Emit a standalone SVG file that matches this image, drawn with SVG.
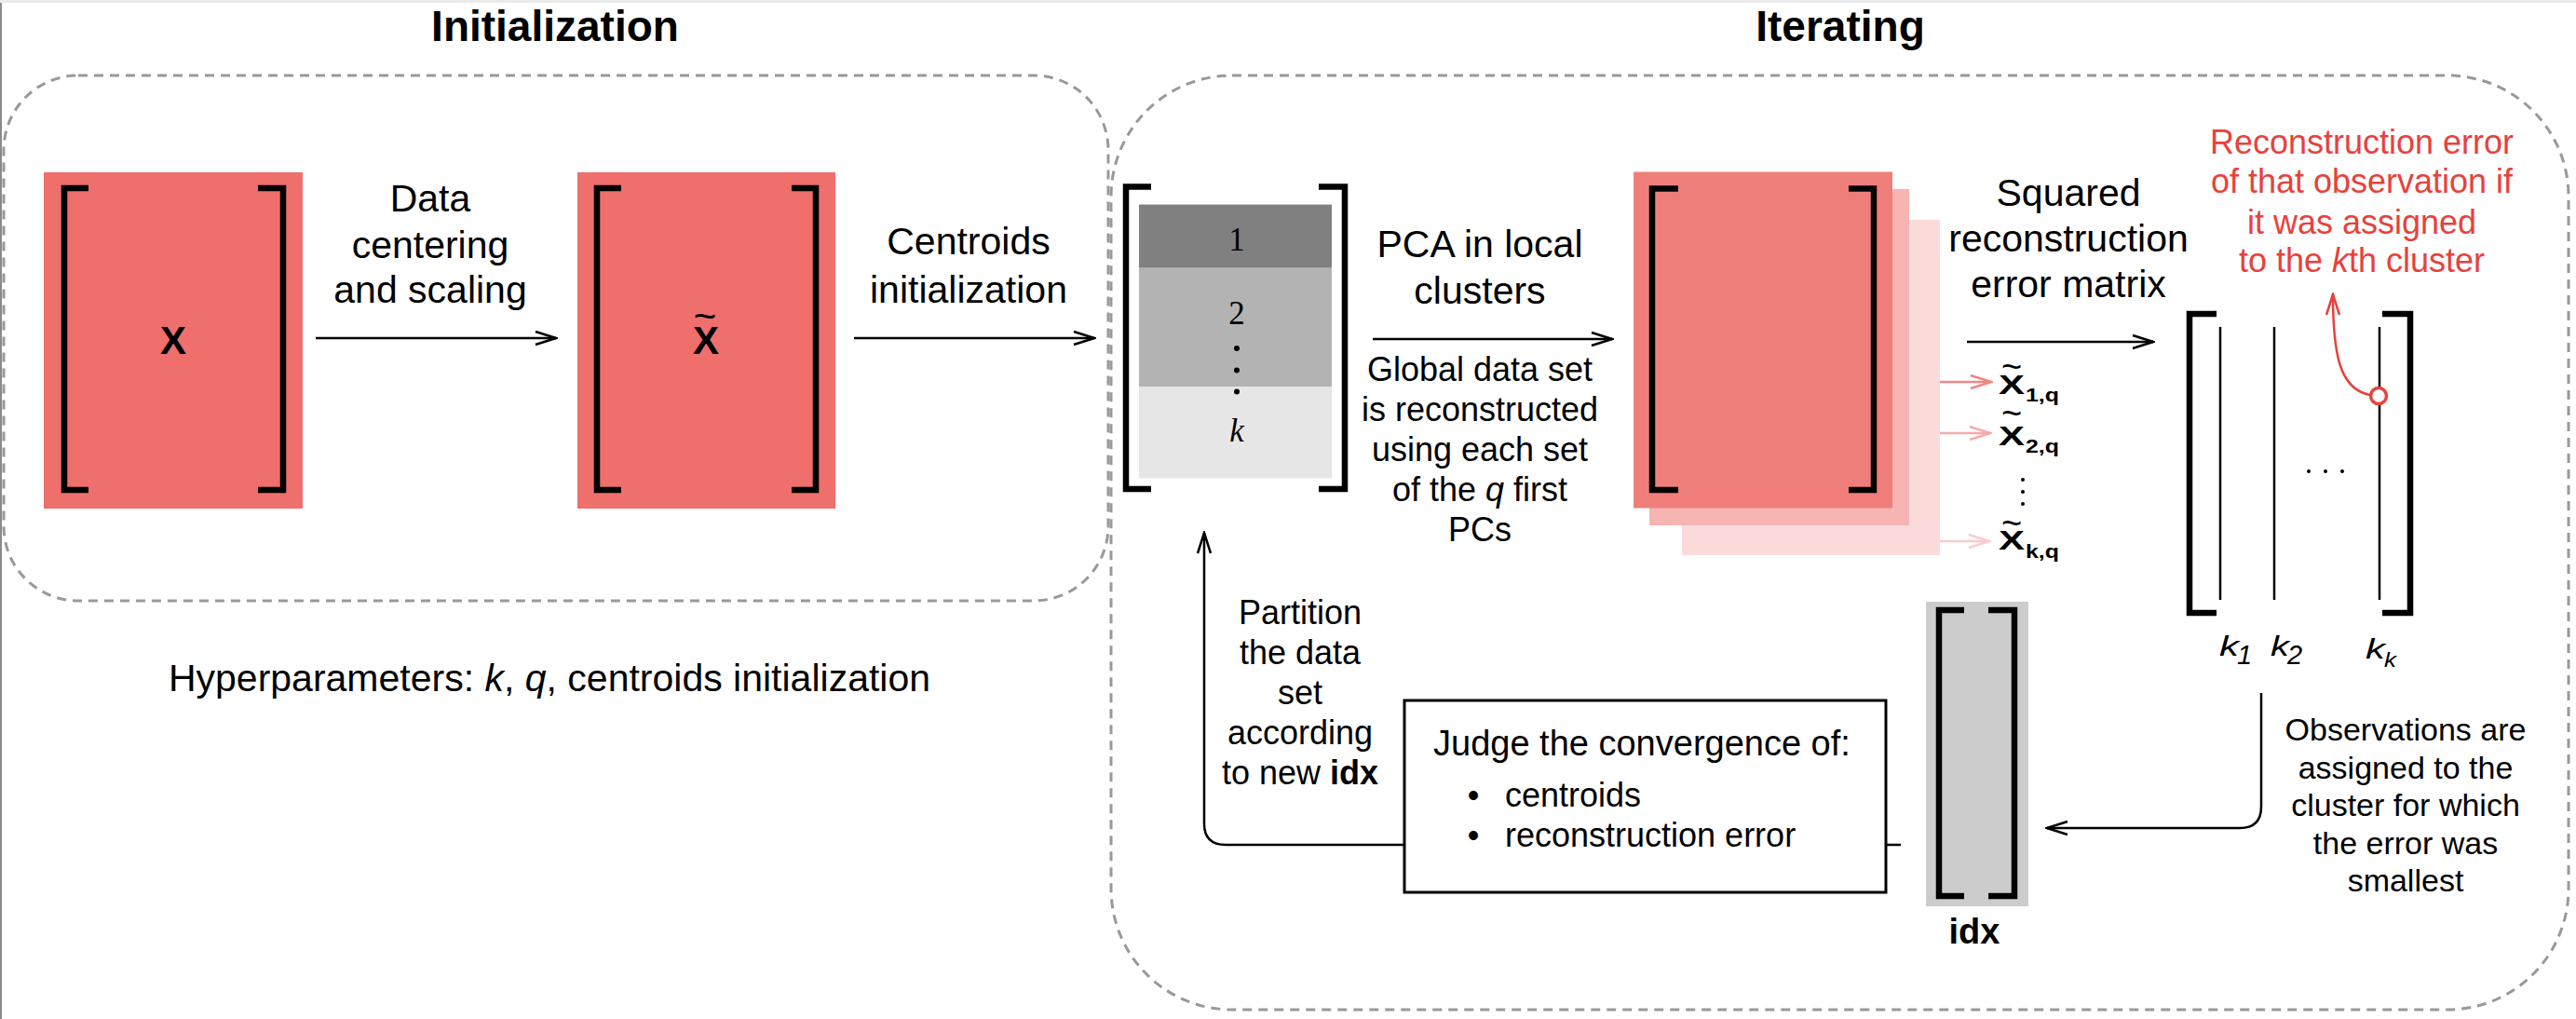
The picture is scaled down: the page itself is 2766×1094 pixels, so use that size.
<svg xmlns="http://www.w3.org/2000/svg" width="2766" height="1094" viewBox="0 0 2766 1094">
<style>
  text { font-family: "Liberation Sans", Arial, Helvetica, sans-serif; fill: #000; }
  .title { font-size: 46px; font-weight: bold; text-anchor: middle; }
  .lbl { font-size: 41px; text-anchor: middle; }
  .sm { font-size: 36px; text-anchor: middle; }
  .obs { font-size: 34px; text-anchor: middle; }
  .red { fill: #e8413c; font-size: 36px; text-anchor: middle; }
  .serif { font-family: "Liberation Serif", "Times New Roman", serif; font-size: 35px; text-anchor: middle; }
  .br { fill: none; stroke: #000; stroke-width: 6.5; stroke-linejoin: miter; }
  .col { fill: none; stroke: #000; stroke-width: 2.5; }
  .dash { fill: none; stroke: #999; stroke-width: 3; stroke-dasharray: 10 7; }
  .conn { fill: none; stroke: #000; stroke-width: 2.5; }
  .mx { font-weight: bold; }
</style>
<defs>
  <marker id="ah" viewBox="0 0 26 18" refX="24" refY="9" markerWidth="26" markerHeight="18" markerUnits="userSpaceOnUse" orient="auto">
    <path d="M2 2 L24 9 L2 16" fill="none" stroke="#000" stroke-width="2.5"/>
  </marker>
  <marker id="ahp1" viewBox="0 0 26 18" refX="24" refY="9" markerWidth="26" markerHeight="18" markerUnits="userSpaceOnUse" orient="auto">
    <path d="M2 2 L24 9 L2 16" fill="none" stroke="#f08585" stroke-width="2.5"/>
  </marker>
  <marker id="ahp2" viewBox="0 0 26 18" refX="24" refY="9" markerWidth="26" markerHeight="18" markerUnits="userSpaceOnUse" orient="auto">
    <path d="M2 2 L24 9 L2 16" fill="none" stroke="#f5abab" stroke-width="2.5"/>
  </marker>
  <marker id="ahp3" viewBox="0 0 26 18" refX="24" refY="9" markerWidth="26" markerHeight="18" markerUnits="userSpaceOnUse" orient="auto">
    <path d="M2 2 L24 9 L2 16" fill="none" stroke="#f9cccc" stroke-width="2.5"/>
  </marker>
  <marker id="ahr" viewBox="0 0 26 18" refX="24" refY="9" markerWidth="26" markerHeight="18" markerUnits="userSpaceOnUse" orient="auto">
    <path d="M2 2 L24 9 L2 16" fill="none" stroke="#e8413c" stroke-width="2.5"/>
  </marker>
</defs>

<rect x="0" y="0" width="2766" height="1094" fill="#fff"/>
<rect x="0" y="0" width="2766" height="3" fill="#ebebeb"/>
<line x1="1" y1="3" x2="1" y2="1094" stroke="#8a8a8a" stroke-width="2"/>

<g id="titles">
  <text class="title" x="596" y="44">Initialization</text>
  <text class="title" x="1976" y="44">Iterating</text>
</g>

<g id="frames">
  <rect class="dash" x="4" y="81" width="1186" height="564" rx="80" ry="80"/>
  <rect class="dash" x="1193" y="81" width="1565" height="1003" rx="130" ry="130"/>
</g>

<g id="connectors">
  <path class="conn" d="M339 363 H597" marker-end="url(#ah)"/>
  <path class="conn" d="M917 363 H1175" marker-end="url(#ah)"/>
  <path class="conn" d="M1474 364 H1731" marker-end="url(#ah)"/>
  <path class="conn" d="M2112 367 H2312" marker-end="url(#ah)"/>
  <path d="M2032 410 H2138" fill="none" stroke="#f08585" stroke-width="2.5" marker-end="url(#ahp1)"/>
  <path d="M2050 465 H2137" fill="none" stroke="#f5abab" stroke-width="2.5" marker-end="url(#ahp2)"/>
  <path d="M2083 581 H2136" fill="none" stroke="#f9cccc" stroke-width="2.5" marker-end="url(#ahp3)"/>
  <path class="conn" d="M2428 744 V866 Q2428 889 2405 889 H2198" marker-end="url(#ah)"/>
  <path class="conn" d="M2041 907 H1316 Q1293 907 1293 884 V572" marker-end="url(#ah)"/>
  <path d="M2545 424 C2512 418 2505 380 2505 316" fill="none" stroke="#e8413c" stroke-width="2.5" marker-end="url(#ahr)"/>
</g>

<g id="label-data-centering">
  <text class="lbl" x="462" y="227">Data</text>
  <text class="lbl" x="462" y="277">centering</text>
  <text class="lbl" x="462" y="325">and scaling</text>
</g>
<g id="label-centroids-init">
  <text class="lbl" x="1040" y="273">Centroids</text>
  <text class="lbl" x="1040" y="325">initialization</text>
</g>
<g id="label-pca">
  <text class="lbl" x="1589" y="276">PCA in local</text>
  <text class="lbl" x="1589" y="326">clusters</text>
  <text class="sm" x="1589" y="409">Global data set</text>
  <text class="sm" x="1589" y="452">is reconstructed</text>
  <text class="sm" x="1589" y="495">using each set</text>
  <text class="sm" x="1589" y="538">of the <tspan font-style="italic">q</tspan> first</text>
  <text class="sm" x="1589" y="581">PCs</text>
</g>
<g id="label-squared">
  <text class="lbl" x="2221" y="221">Squared</text>
  <text class="lbl" x="2221" y="270">reconstruction</text>
  <text class="lbl" x="2221" y="319">error matrix</text>
</g>
<g id="label-partition">
  <text class="sm" x="1396" y="670">Partition</text>
  <text class="sm" x="1396" y="713">the data</text>
  <text class="sm" x="1396" y="756">set</text>
  <text class="sm" x="1396" y="799">according</text>
  <text class="sm" x="1396" y="842">to new <tspan font-weight="bold">idx</tspan></text>
</g>
<g id="label-observations">
  <text class="obs" x="2583" y="795">Observations are</text>
  <text class="obs" x="2583" y="836">assigned to the</text>
  <text class="obs" x="2583" y="876">cluster for which</text>
  <text class="obs" x="2583" y="917">the error was</text>
  <text class="obs" x="2583" y="957">smallest</text>
</g>
<g id="label-red">
  <text class="red" x="2536" y="165">Reconstruction error</text>
  <text class="red" x="2536" y="207">of that observation if</text>
  <text class="red" x="2536" y="251">it was assigned</text>
  <text class="red" x="2536" y="292">to the <tspan font-style="italic">k</tspan>th cluster</text>
</g>
<g id="hyperparameters">
  <text class="lbl" x="590" y="742">Hyperparameters: <tspan font-style="italic">k</tspan>, <tspan font-style="italic">q</tspan>, centroids initialization</text>
</g>

<g id="node-X">
  <rect x="47" y="185" width="278" height="361" fill="#ee6f6b"/>
  <path class="br" d="M95 202 H69 V526 H95"/>
  <path class="br" d="M277 202 H304 V526 H277"/>
  <text class="mx" x="186" y="380" font-size="42" text-anchor="middle">X</text>
</g>

<g id="node-Xtilde">
  <rect x="620" y="185" width="277" height="361" fill="#ee6f6b"/>
  <path class="br" d="M667 202 H641 V526 H667"/>
  <path class="br" d="M850 202 H876 V526 H850"/>
  <text class="mx" font-size="42" text-anchor="middle"><tspan x="758" y="380">X</tspan><tspan x="757" y="354" font-weight="normal">~</tspan></text>
</g>

<g id="node-centroids">
  <rect x="1223" y="219.6" width="207" height="68.1" fill="#808080"/>
  <rect x="1223" y="287.7" width="207" height="127.3" fill="#b3b3b3"/>
  <rect x="1223" y="415" width="207" height="98.5" fill="#e6e6e6"/>
  <path class="br" d="M1236 200.5 H1209 V525 H1236"/>
  <path class="br" d="M1416 200.5 H1444 V525 H1416"/>
  <text class="serif" x="1328" y="268.6">1</text>
  <text class="serif" x="1328" y="347.8">2</text>
  <circle cx="1328" cy="374" r="3" fill="#000"/>
  <circle cx="1328" cy="397.5" r="3" fill="#000"/>
  <circle cx="1328" cy="420.5" r="3" fill="#000"/>
  <text class="serif" x="1328" y="474" font-style="italic">k</text>
</g>

<g id="node-reconstructions">
  <rect x="1806" y="236" width="277" height="360" fill="#fbdcdb"/>
  <rect x="1771" y="203" width="279" height="361" fill="#f6b4b2"/>
  <rect x="1754" y="184.5" width="278" height="361" fill="#ef7e7b"/>
  <path class="br" d="M1802 202.4 H1774 V526 H1802"/>
  <path class="br" d="M1985 202.4 H2012 V526 H1985"/>
</g>

<g id="node-xtilde-list">
  <text class="mx"><tspan x="2160" y="423" text-anchor="middle" font-size="29" textLength="28" lengthAdjust="spacingAndGlyphs">X</tspan><tspan x="2160" y="407" text-anchor="middle" font-size="38" font-weight="normal">~</tspan><tspan x="2175" y="431" font-size="21" textLength="36" lengthAdjust="spacingAndGlyphs">1,q</tspan></text>
  <text class="mx"><tspan x="2160" y="478" text-anchor="middle" font-size="29" textLength="28" lengthAdjust="spacingAndGlyphs">X</tspan><tspan x="2160" y="457" text-anchor="middle" font-size="38" font-weight="normal">~</tspan><tspan x="2175" y="486" font-size="21" textLength="36" lengthAdjust="spacingAndGlyphs">2,q</tspan></text>
  <circle cx="2172" cy="515" r="2" fill="#000"/>
  <circle cx="2172" cy="528" r="2" fill="#000"/>
  <circle cx="2172" cy="541" r="2" fill="#000"/>
  <text class="mx"><tspan x="2160" y="590" text-anchor="middle" font-size="29" textLength="28" lengthAdjust="spacingAndGlyphs">X</tspan><tspan x="2160" y="575" text-anchor="middle" font-size="38" font-weight="normal">~</tspan><tspan x="2175" y="599" font-size="21" textLength="36" lengthAdjust="spacingAndGlyphs">k,q</tspan></text>
</g>

<g id="node-error-matrix">
  <path class="br" d="M2380 337 H2351 V658 H2380"/>
  <path class="br" d="M2558 337 H2588 V658 H2558"/>
  <line class="col" x1="2384" y1="351" x2="2384" y2="644"/>
  <line class="col" x1="2442" y1="351" x2="2442" y2="644"/>
  <line class="col" x1="2555" y1="351" x2="2555" y2="644"/>
  <circle cx="2479" cy="506" r="2" fill="#000"/>
  <circle cx="2497" cy="506" r="2" fill="#000"/>
  <circle cx="2515" cy="506" r="2" fill="#000"/>
  <circle cx="2554" cy="425" r="8.5" fill="#fff" stroke="#e8413c" stroke-width="3.5"/>
  <text x="2383" y="704" font-size="29" font-style="italic" textLength="21" lengthAdjust="spacingAndGlyphs">k</text>
  <text x="2402" y="713" font-size="29" font-style="italic">1</text>
  <text x="2438" y="704" font-size="29" font-style="italic" textLength="20" lengthAdjust="spacingAndGlyphs">k</text>
  <text x="2456" y="713" font-size="29" font-style="italic">2</text>
  <text x="2540" y="707" font-size="29" font-style="italic" textLength="21" lengthAdjust="spacingAndGlyphs">k</text>
  <text x="2560" y="716" font-size="22" font-style="italic" textLength="13" lengthAdjust="spacingAndGlyphs">k</text>
</g>

<g id="node-idx">
  <rect x="2068" y="646" width="110" height="327" fill="#cccccc"/>
  <path class="br" d="M2109 655 H2082 V962 H2109"/>
  <path class="br" d="M2135 655 H2163 V962 H2135"/>
  <text x="2120" y="1013" font-size="38" font-weight="bold" text-anchor="middle">idx</text>
</g>

<g id="node-judge">
  <rect x="1508" y="752" width="517" height="206" fill="#fff" stroke="#000" stroke-width="3"/>
  <text x="1539" y="811" font-size="38">Judge the convergence of:</text>
  <text x="1582" y="866" font-size="36" text-anchor="middle">•</text>
  <text x="1616" y="866" font-size="36">centroids</text>
  <text x="1582" y="909" font-size="36" text-anchor="middle">•</text>
  <text x="1616" y="909" font-size="36">reconstruction error</text>
</g>
</svg>
